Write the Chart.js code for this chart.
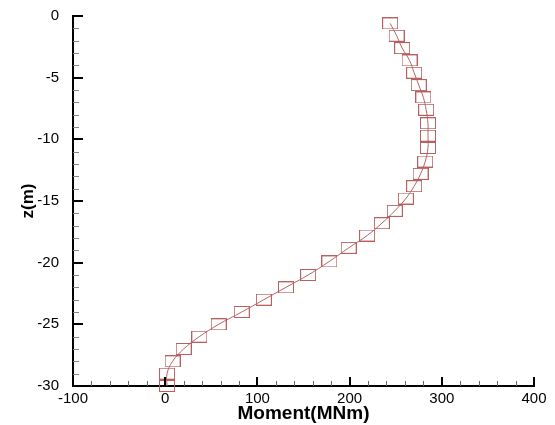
<!DOCTYPE html>
<html>
<head>
<meta charset="utf-8">
<script src="https://cdn.jsdelivr.net/npm/chart.js@4/dist/chart.umd.min.js"></script>
<style>
  html, body { margin: 0; padding: 0; background: #fff; }
  canvas { display: block; }
</style>
</head>
<body>
<canvas id="chart" width="555" height="425"></canvas>
<script>
// depth below surface (m) and bending moment (MNm)
const depth = [-0.6, -1.6, -2.6, -3.6, -4.6, -5.6, -6.6, -7.6, -8.7, -9.7,
  -10.7, -11.8, -12.8, -13.8, -14.8, -15.8, -16.8, -17.8, -18.8, -19.9,
  -21.0, -22.0, -23.0, -24.0, -25.0, -26.0, -27.0, -28.0, -29.0, -30.0];
const moment = [244, 251, 257, 265, 270, 275, 280, 283, 285, 285,
  285, 282, 277, 270, 261, 249, 235, 219, 199, 178,
  155, 131, 107, 83, 58, 37, 20, 8, 2, 2];
const xTickValues = [-100, 0, 100, 200, 300, 400];
const yTickValues = [-30, -25, -20, -15, -10, -5, 0];

const markColor = '#b86060';

// hollow rectangle marker like the original plot
const marker = document.createElement('canvas');
marker.width = 16;
marker.height = 12;
const mctx = marker.getContext('2d');
mctx.strokeStyle = markColor;
mctx.lineWidth = 1;
mctx.strokeRect(0.5, 0.5, 15, 11);

// ticks pointing into the plot, major + minor
const inwardTicks = {
  id: 'inwardTicks',
  afterDraw(chart) {
    const ctx = chart.ctx;
    const xs = chart.scales.x, ys = chart.scales.y;
    const area = chart.chartArea;
    ctx.save();
    // x axis
    for (let v = -100; v <= 400; v += 20) {
      const px = Math.round(xs.getPixelForValue(v));
      const major = v % 100 === 0;
      ctx.strokeStyle = major ? '#000' : '#666';
      ctx.lineWidth = major ? 2 : 1;
      ctx.beginPath();
      ctx.moveTo(px + (major ? 0 : 0.5), area.bottom);
      ctx.lineTo(px + (major ? 0 : 0.5), area.bottom - (major ? 9 : 5));
      ctx.stroke();
    }
    // y axis
    for (let v = -30; v <= 0; v += 1) {
      const py = Math.round(ys.getPixelForValue(v));
      const major = v % 5 === 0;
      ctx.strokeStyle = major ? '#000' : '#888';
      ctx.lineWidth = major ? 2 : 1;
      ctx.beginPath();
      ctx.moveTo(area.left, py + (major ? 0 : 0.5));
      ctx.lineTo(area.left + (major ? 10 : 6), py + (major ? 0 : 0.5));
      ctx.stroke();
    }
    ctx.restore();
  }
};

const points = depth.map((z, i) => ({ x: moment[i], y: z }));

new Chart(document.getElementById('chart'), {
  type: 'scatter',
  data: {
    datasets: [{
      data: points,
      showLine: true,
      borderColor: markColor,
      borderWidth: 1,
      tension: 0.4,
      pointStyle: marker,
      clip: false
    }]
  },
  options: {
    responsive: false,
    animation: false,
    layout: { padding: { top: 16, right: 21, left: 0, bottom: 0 } },
    plugins: {
      legend: { display: false },
      tooltip: { enabled: false }
    },
    scales: {
      x: {
        type: 'linear',
        min: -100,
        max: 400,
        afterBuildTicks: s => { s.ticks = xTickValues.map(v => ({ value: v })); },
        afterFit: s => { s.height = 39; s.paddingLeft = 0; s.paddingRight = 0; },
        grid: { display: false, drawTicks: false },
        border: { display: true, color: '#000', width: 2 },
        ticks: {
          color: '#000',
          padding: 4,
          maxRotation: 0,
          font: { family: 'Liberation Sans', size: 15 }
        },
        title: {
          display: true,
          text: 'Moment(MNm)',
          color: '#000',
          padding: { top: 0, bottom: 0 },
          font: { family: 'Liberation Sans', size: 19, weight: 'bold' }
        }
      },
      y: {
        type: 'linear',
        min: -30,
        max: 0,
        afterBuildTicks: s => { s.ticks = yTickValues.map(v => ({ value: v })); },
        afterFit: s => { s.width = 73; s.paddingTop = 0; s.paddingBottom = 0; },
        grid: { display: false, drawTicks: false },
        border: { display: true, color: '#000', width: 2 },
        ticks: {
          color: '#000',
          padding: 14,
          font: { family: 'Liberation Sans', size: 15 }
        },
        title: {
          display: true,
          text: 'z(m)',
          color: '#000',
          padding: { top: 18, bottom: 0 },
          font: { family: 'Liberation Sans', size: 17, weight: 'bold' }
        }
      }
    }
  },
  plugins: [inwardTicks]
});
</script>
</body>
</html>
